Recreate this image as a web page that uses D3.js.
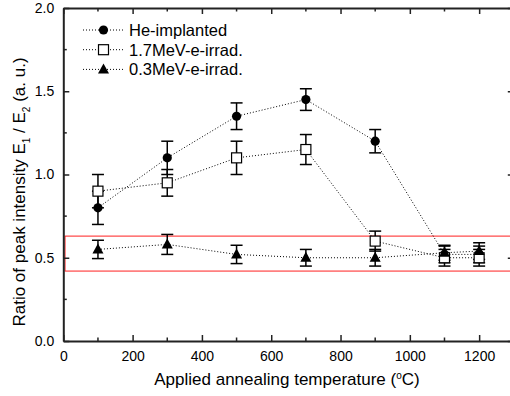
<!DOCTYPE html>
<html><head><meta charset="utf-8">
<script src="https://cdn.jsdelivr.net/npm/d3@7"></script>
<style>
html,body{margin:0;padding:0;background:#fff;overflow:hidden}
text{font-family:"Liberation Sans",Arial,sans-serif;fill:#000}
</style></head>
<body><svg id="c" width="510" height="396"></svg>
<script>
const temps = [100, 300, 500, 700, 900, 1100, 1200];
const heVals = [0.80, 1.10, 1.35, 1.45, 1.20, 0.52, 0.52];
const heErr = [0.10, 0.10, 0.08, 0.065, 0.07, 0.05, 0.05];
const e17Vals = [0.90, 0.95, 1.10, 1.15, 0.60, 0.50, 0.50];
const e17Err = [0.10, 0.08, 0.10, 0.09, 0.06, 0.05, 0.05];
const e03Vals = [0.55, 0.58, 0.52, 0.50, 0.50, 0.53, 0.54];
const e03Err = [0.055, 0.06, 0.055, 0.05, 0.05, 0.045, 0.05];
const seriesNames = ["He-implanted", "1.7MeV-e-irrad.", "0.3MeV-e-irrad."];
const xTicks = [0, 200, 400, 600, 800, 1000, 1200];
const yTicks = [0.0, 0.5, 1.0, 1.5, 2.0];
const bandX = [5, 1400];
const bandY = [0.42, 0.63];

const svg = d3.select("#c");
const x = d3.scaleLinear().domain([0, 1300]).range([63.3, 513.8]);
const y = d3.scaleLinear().domain([0, 2]).range([341, 8]);

// red band
svg.append("rect")
  .attr("x", x(bandX[0])).attr("y", y(bandY[1]))
  .attr("width", x(bandX[1]) - x(bandX[0])).attr("height", y(bandY[0]) - y(bandY[1]))
  .attr("fill", "none").attr("stroke", "#ff2020").attr("stroke-width", 1);

// axes
const fmtY = d3.format(".1f");
const fmtX = d3.format("d");
function axisStyle(g){ g.select(".domain").attr("stroke","#222").attr("stroke-width",2); g.selectAll(".tick line").attr("stroke","#222").attr("stroke-width",1.5); }
const minorX = d3.range(100, 1300, 200);
const minorY = [0.25, 0.75, 1.25, 1.75];

const gB = svg.append("g").attr("transform", `translate(0,${y(0)})`)
  .call(d3.axisBottom(x).tickValues(xTicks).tickSize(-6).tickPadding(10).tickFormat(fmtX).tickSizeOuter(0));
axisStyle(gB);
gB.selectAll("text").attr("font-size", 14).attr("dy","0.71em");
gB.append("g").selectAll("line").data(minorX).join("line")
  .attr("x1", d=>x(d)).attr("x2", d=>x(d)).attr("y1",0).attr("y2",-3.5).attr("stroke","#222").attr("stroke-width",1.5);

const gT = svg.append("g").attr("transform", `translate(0,${y(2)})`)
  .call(d3.axisTop(x).tickValues(xTicks).tickSize(-6).tickFormat("").tickSizeOuter(0));
axisStyle(gT);
gT.append("g").selectAll("line").data(minorX).join("line")
  .attr("x1", d=>x(d)).attr("x2", d=>x(d)).attr("y1",0).attr("y2",3.5).attr("stroke","#222").attr("stroke-width",1.5);

const gL = svg.append("g").attr("transform", `translate(${x(0)},0)`)
  .call(d3.axisLeft(y).tickValues(yTicks).tickSize(-6).tickPadding(9).tickFormat(fmtY).tickSizeOuter(0));
axisStyle(gL);
gL.selectAll("text").attr("font-size", 14);
gL.append("g").selectAll("line").data(minorY).join("line")
  .attr("y1", d=>y(d)).attr("y2", d=>y(d)).attr("x1",0).attr("x2",3.5).attr("stroke","#222").attr("stroke-width",1.5);

const gR = svg.append("g").attr("transform", `translate(${x(1300)},0)`)
  .call(d3.axisRight(y).tickValues(yTicks).tickSize(-6).tickFormat("").tickSizeOuter(0));
axisStyle(gR);
gR.append("g").selectAll("line").data(minorY).join("line")
  .attr("y1", d=>y(d)).attr("y2", d=>y(d)).attr("x1",0).attr("x2",-3.5).attr("stroke","#222").attr("stroke-width",1.5);

// series
const series = [
  {name: seriesNames[0], vals: heVals, err: heErr, sym: "circle"},
  {name: seriesNames[1], vals: e17Vals, err: e17Err, sym: "square"},
  {name: seriesNames[2], vals: e03Vals, err: e03Err, sym: "triangle"}
];
function drawSym(g, sym, cx, cy){
  if(sym==="circle") g.append("circle").attr("cx",cx).attr("cy",cy).attr("r",4.6).attr("fill","#000");
  else if(sym==="square") g.append("rect").attr("x",cx-5).attr("y",cy-5).attr("width",10).attr("height",10).attr("fill","#fff").attr("stroke","#000").attr("stroke-width",1.2);
  else g.append("path").attr("d",`M${cx},${cy-6}L${cx+5.5},${cy+4}L${cx-5.5},${cy+4}Z`).attr("fill","#000");
}
const line = d3.line().x(d=>x(d[0])).y(d=>y(d[1]));
series.forEach(s=>{
  const pts = temps.map((t,i)=>[t, s.vals[i], s.err[i]]);
  svg.append("path").attr("d", line(pts)).attr("fill","none").attr("stroke","#000").attr("stroke-width",1).attr("stroke-dasharray","1,2");
});
series.forEach(s=>{
  const g = svg.append("g");
  temps.forEach((t,i)=>{
    const cx = x(t), v = s.vals[i], e = s.err[i];
    g.append("line").attr("x1",cx).attr("x2",cx).attr("y1",y(v+e)).attr("y2",y(v-e)).attr("stroke","#000").attr("stroke-width",1.5);
    [v+e, v-e].forEach(w=> g.append("line").attr("x1",cx-6).attr("x2",cx+6).attr("y1",y(w)).attr("y2",y(w)).attr("stroke","#000").attr("stroke-width",1.5));
  });
});
series.forEach(s=>{
  const g = svg.append("g");
  temps.forEach((t,i)=> drawSym(g, s.sym, x(t), y(s.vals[i])));
});

// legend
series.forEach((s,i)=>{
  const ly = 30 + i*19.7;
  const g = svg.append("g");
  g.append("line").attr("x1",83).attr("x2",124).attr("y1",ly).attr("y2",ly).attr("stroke","#000").attr("stroke-width",1).attr("stroke-dasharray","1,2");
  drawSym(g, s.sym, 103.5, ly);
  g.append("text").attr("x",129).attr("y",ly).attr("dy","0.36em").attr("font-size",16.5).text(s.name);
});

// axis titles
svg.append("text").attr("x", 287).attr("y", 385).attr("text-anchor","middle").attr("font-size",17)
  .html('Applied annealing temperature (<tspan dy="-6" font-size="10">o</tspan><tspan dy="6">C)</tspan>');
svg.append("text").attr("transform","translate(25,192) rotate(-90)").attr("text-anchor","middle").attr("font-size",17)
  .html('Ratio of peak intensity E<tspan dy="5" font-size="10">1</tspan><tspan dy="-5"> / E</tspan><tspan dy="5" font-size="10">2</tspan><tspan dy="-5"> (a. u.)</tspan>');
</script></body></html>
